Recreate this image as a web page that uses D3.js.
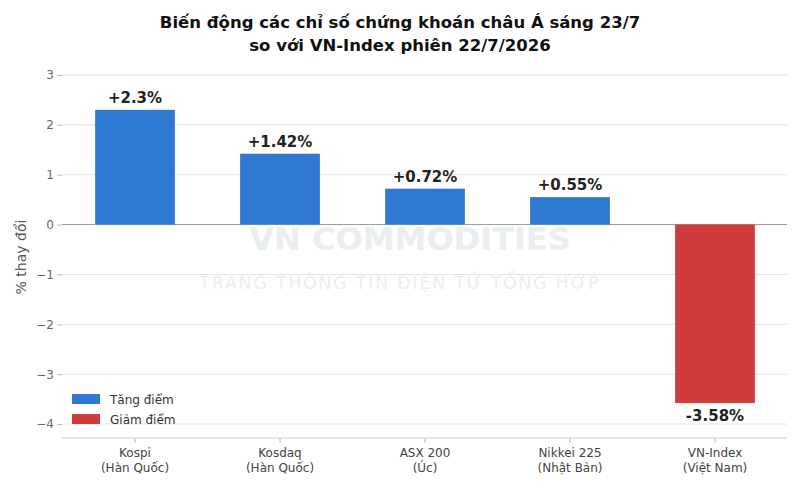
<!DOCTYPE html>
<html><head><meta charset="utf-8">
<script src="https://cdn.jsdelivr.net/npm/d3@7"></script>
<style>body{margin:0;background:#fff;font-family:"DejaVu Sans",sans-serif}</style>
</head><body><svg id="c" width="800" height="489"></svg>
<script>
const categories = ["Kospi", "Kosdaq", "ASX 200", "Nikkei 225", "VN-Index"];
const countries = ["(Hàn Quốc)", "(Hàn Quốc)", "(Úc)", "(Nhật Bản)", "(Việt Nam)"];
const values = [2.3, 1.42, 0.72, 0.55, -3.58];
const labels = ["+2.3%", "+1.42%", "+0.72%", "+0.55%", "-3.58%"];
const yTicks = [-4, -3, -2, -1, 0, 1, 2, 3];

const svg = d3.select("#c");
const up = "#2f79d2", down = "#d03b3b";

const x = d3.scaleBand().domain(categories).range([62.5, 787.5]).paddingInner(0.45).paddingOuter(0.225);
const y = d3.scaleLinear().domain([-4.3, 3.3]).range([439, 60]);

// title
svg.append("text").attr("x", 400).attr("y", 28).attr("text-anchor", "middle")
  .attr("font-size", 16.5).attr("font-weight", "bold").attr("fill", "#111")
  .text("Biến động các chỉ số chứng khoán châu Á sáng 23/7");
svg.append("text").attr("x", 400).attr("y", 51).attr("text-anchor", "middle")
  .attr("font-size", 16.5).attr("font-weight", "bold").attr("fill", "#111")
  .text("so với VN-Index phiên 22/7/2026");

// grid
svg.append("g").selectAll("line").data(yTicks).enter().append("line")
  .attr("x1", 62).attr("x2", 787).attr("y1", d => y(d)).attr("y2", d => y(d))
  .attr("stroke", d => d === 0 ? "#999" : "#e3e3e3").attr("stroke-width", 1);

// y axis
const ya = svg.append("g").attr("transform", "translate(62,0)")
  .call(d3.axisLeft(y).tickValues(yTicks).tickSize(5).tickFormat(d => d < 0 ? "−" + Math.abs(d) : d));
ya.select(".domain").remove();
ya.selectAll("line").attr("stroke", "#bbb");
ya.selectAll("text").attr("fill", "#666").attr("font-size", 12).attr("font-family", "DejaVu Sans");

svg.append("text").attr("transform", "translate(26,257) rotate(-90)").attr("text-anchor", "middle")
  .attr("font-size", 14).attr("fill", "#555").text("% thay đổi");

// watermark
svg.append("text").attr("x", 410).attr("y", 250).attr("text-anchor", "middle")
  .attr("font-size", 32).attr("font-weight", "bold").attr("fill", "#e9eeee").text("VN COMMODITIES");
svg.append("text").attr("x", 400).attr("y", 289).attr("text-anchor", "middle")
  .attr("font-size", 17).attr("letter-spacing", 2).attr("fill", "#eceeee").text("TRANG THÔNG TIN ĐIỆN TỬ TỔNG HỢP");

// bars
svg.append("g").selectAll("rect").data(values).enter().append("rect")
  .attr("x", (d, i) => x(categories[i])).attr("width", x.bandwidth())
  .attr("y", d => y(Math.max(0, d))).attr("height", d => Math.abs(y(d) - y(0)))
  .attr("fill", d => d >= 0 ? up : down);

svg.append("g").selectAll("text").data(values).enter().append("text")
  .attr("x", (d, i) => x(categories[i]) + x.bandwidth() / 2)
  .attr("y", d => d >= 0 ? y(d) - 7 : y(d) + 18)
  .attr("text-anchor", "middle").attr("font-size", 15).attr("font-weight", "bold").attr("fill", "#222")
  .text((d, i) => labels[i]);

// x axis
svg.append("line").attr("x1", 62).attr("x2", 787).attr("y1", 438).attr("y2", 438).attr("stroke", "#ccc");
const xl = svg.append("g").selectAll("g").data(categories).enter().append("g")
  .attr("transform", d => `translate(${x(d) + x.bandwidth() / 2},0)`);
xl.append("line").attr("y1", 438).attr("y2", 443).attr("stroke", "#bbb");
xl.append("text").attr("y", 457).attr("text-anchor", "middle").attr("font-size", 12).attr("fill", "#444").text(d => d);
xl.append("text").attr("y", 472).attr("text-anchor", "middle").attr("font-size", 12).attr("fill", "#444").text((d, i) => countries[i]);

// legend
const leg = svg.append("g").attr("transform", "translate(72,394)");
[["Tăng điểm", up], ["Giảm điểm", down]].forEach((l, i) => {
  leg.append("rect").attr("x", 0).attr("y", i * 20).attr("width", 28).attr("height", 10).attr("fill", l[1]);
  leg.append("text").attr("x", 38).attr("y", i * 20 + 10).attr("font-size", 12).attr("fill", "#333").text(l[0]);
});
</script></body></html>
